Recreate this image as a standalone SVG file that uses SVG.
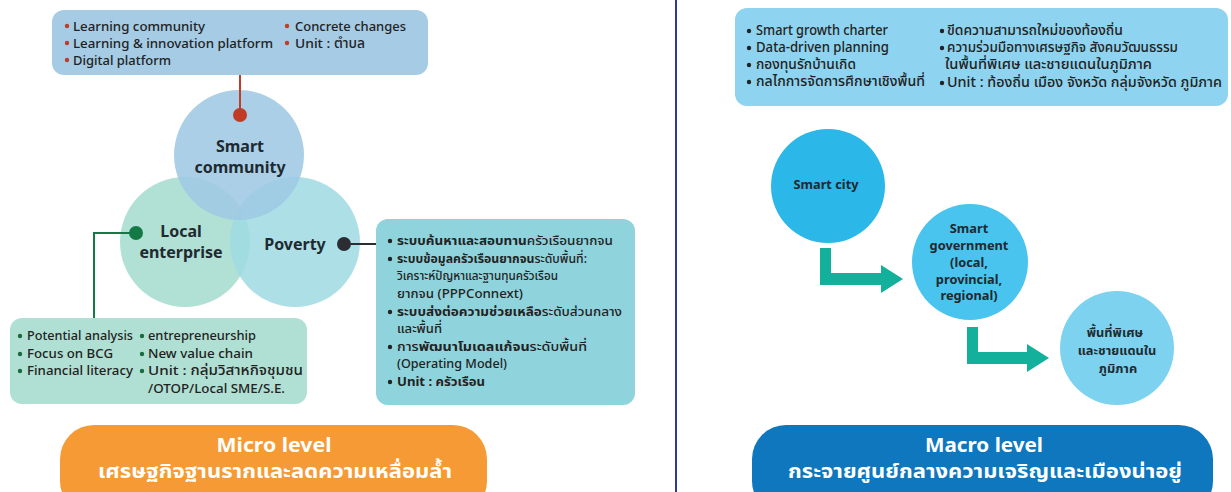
<svg xmlns="http://www.w3.org/2000/svg" width="1231" height="492" viewBox="0 0 1231 492">
<style>
text{font-family:"Noto Sans","Noto Sans Thai",Tahoma,sans-serif;fill:#222;}
.li{font-size:13.3px;font-weight:500;}
.th{font-size:13px;font-weight:500;}
.mb{font-size:13.6px;font-weight:500;}
.b{font-weight:700;}
.lbl{font-size:16px;font-weight:700;text-anchor:middle;fill:#1f2a30;}
.lblS{font-size:12.8px;font-weight:700;text-anchor:middle;fill:#1f2a30;}
.pill{font-size:19px;font-weight:700;text-anchor:middle;fill:#fff;}
.arrow{fill:#13b09c;}
</style>
<defs>
<circle id="bul" r="2.2"/>
</defs>
<rect width="1231" height="492" fill="#fff"/>
<line x1="676" y1="0" x2="676" y2="492" stroke="#2a3a9e" stroke-width="2"/>

<g id="smart-community-box">
<rect x="52" y="10" width="376" height="65" rx="12" fill="#a5cbe5"/>
<g fill="#c03c25"><use href="#bul" x="67" y="26"/><use href="#bul" x="67" y="43"/><use href="#bul" x="67" y="60"/><use href="#bul" x="287" y="26"/><use href="#bul" x="287" y="43"/></g>
<text class="li" x="73" y="31" textLength="132" lengthAdjust="spacingAndGlyphs">Learning community</text>
<text class="li" x="73" y="48" textLength="200" lengthAdjust="spacingAndGlyphs">Learning &amp; innovation platform</text>
<text class="li" x="73" y="65" textLength="98" lengthAdjust="spacingAndGlyphs">Digital platform</text>
<text class="li" x="295" y="31" textLength="111" lengthAdjust="spacingAndGlyphs">Concrete changes</text>
<text class="li" x="295" y="48" textLength="70" lengthAdjust="spacingAndGlyphs">Unit : ตำบล</text>
</g>

<g id="local-enterprise">
<circle cx="185" cy="242" r="65" fill="#a8ddd0" fill-opacity="0.9"/>
<text class="lbl" x="181" y="237">Local</text>
<text class="lbl" x="181" y="258">enterprise</text>
</g>
<g id="poverty">
<circle cx="295" cy="242" r="65" fill="#9fdbe2" fill-opacity="0.85"/>
<text class="lbl" x="295" y="250">Poverty</text>
</g>
<g id="smart-community">
<circle cx="239" cy="155" r="65" fill="#9ec8e4" fill-opacity="0.88"/>
<text class="lbl" x="240" y="152">Smart</text>
<text class="lbl" x="240" y="173">community</text>
</g>

<g id="connectors">
<line x1="240" y1="75" x2="240" y2="115" stroke="#c03c25" stroke-width="2"/>
<circle cx="240" cy="115" r="7" fill="#c03c25"/>
<polyline points="136,233 94,233 94,318" fill="none" stroke="#137a45" stroke-width="2"/>
<circle cx="136" cy="233" r="7" fill="#137a45"/>
<line x1="344" y1="244" x2="378" y2="244" stroke="#2b2d33" stroke-width="2"/>
<circle cx="344" cy="244" r="7" fill="#2b2d33"/>
<path class="arrow" d="M820,248 H831 V273 H881 V265 L903,279 L881,293 V285 H820 Z"/>
<path class="arrow" d="M967,327 H978 V352 H1027 V344 L1049,358 L1027,372 V364 H967 Z"/>
</g>

<g id="poverty-box">
<rect x="376" y="219" width="259" height="186" rx="12" fill="#8fd3dc"/>
<g fill="#222"><use href="#bul" x="390" y="241"/><use href="#bul" x="390" y="259"/><use href="#bul" x="390" y="312"/><use href="#bul" x="390" y="347"/><use href="#bul" x="390" y="382"/></g>
<text class="th" x="397" y="245" textLength="216" lengthAdjust="spacingAndGlyphs"><tspan class="b">ระบบค้นหาและสอบทาน</tspan>ครัวเรือนยากจน</text>
<text class="th" x="397" y="263" textLength="190" lengthAdjust="spacingAndGlyphs"><tspan class="b">ระบบข้อมูลครัวเรือนยากจน</tspan>ระดับพื้นที่:</text>
<text class="th" x="397" y="280" textLength="161" lengthAdjust="spacingAndGlyphs">วิเคราะห์ปัญหาและฐานทุนครัวเรือน</text>
<text class="th" x="397" y="298" textLength="126" lengthAdjust="spacingAndGlyphs">ยากจน (PPPConnext)</text>
<text class="th" x="397" y="316" textLength="225" lengthAdjust="spacingAndGlyphs"><tspan class="b">ระบบส่งต่อความช่วยเหลือ</tspan>ระดับส่วนกลาง</text>
<text class="th" x="397" y="333" textLength="45" lengthAdjust="spacingAndGlyphs">และพื้นที่</text>
<text class="th" x="397" y="351" textLength="190" lengthAdjust="spacingAndGlyphs">การ<tspan class="b">พัฒนาโมเดลแก้จน</tspan>ระดับพื้นที่</text>
<text class="th" x="397" y="368" textLength="110" lengthAdjust="spacingAndGlyphs">(Operating Model)</text>
<text class="th b" x="397" y="386" textLength="88" lengthAdjust="spacingAndGlyphs">Unit : ครัวเรือน</text>
</g>

<g id="local-enterprise-box">
<rect x="10" y="318" width="297" height="86" rx="12" fill="#b0e0d3"/>
<g fill="#1a6a40"><use href="#bul" x="20" y="336"/><use href="#bul" x="20" y="354"/><use href="#bul" x="20" y="371"/><use href="#bul" x="142" y="336"/><use href="#bul" x="142" y="354"/><use href="#bul" x="142" y="371"/></g>
<text class="li" x="27" y="340" textLength="106" lengthAdjust="spacingAndGlyphs">Potential analysis</text>
<text class="li" x="27" y="358" textLength="86" lengthAdjust="spacingAndGlyphs">Focus on BCG</text>
<text class="li" x="27" y="375" textLength="106" lengthAdjust="spacingAndGlyphs">Financial literacy</text>
<text class="li" x="148" y="340" textLength="108" lengthAdjust="spacingAndGlyphs">entrepreneurship</text>
<text class="li" x="148" y="358" textLength="105" lengthAdjust="spacingAndGlyphs">New value chain</text>
<text class="li" x="148" y="375" textLength="155" lengthAdjust="spacingAndGlyphs">Unit : กลุ่มวิสาหกิจชุมชน</text>
<text class="li" x="148" y="393" textLength="137" lengthAdjust="spacingAndGlyphs">/OTOP/Local SME/S.E.</text>
</g>

<g id="micro-level">
<rect x="60" y="425" width="427" height="90" rx="34" fill="#f59a35"/>
<text class="pill" x="274" y="452" textLength="115" lengthAdjust="spacingAndGlyphs">Micro level</text>
<text class="pill" x="275" y="478" textLength="354" lengthAdjust="spacingAndGlyphs">เศรษฐกิจฐานรากและลดความเหลื่อมล้ำ</text>
</g>

<g id="macro-box">
<rect x="735" y="8" width="493" height="98" rx="12" fill="#8ed3ef"/>
<g fill="#222"><use href="#bul" x="749" y="31"/><use href="#bul" x="749" y="48"/><use href="#bul" x="749" y="65"/><use href="#bul" x="749" y="82"/><use href="#bul" x="942" y="31"/><use href="#bul" x="942" y="48"/><use href="#bul" x="942" y="83"/></g>
<text class="mb" x="756" y="35" textLength="132" lengthAdjust="spacingAndGlyphs">Smart growth charter</text>
<text class="mb" x="756" y="52" textLength="133" lengthAdjust="spacingAndGlyphs">Data-driven planning</text>
<text class="mb" x="756" y="69" textLength="100" lengthAdjust="spacingAndGlyphs">กองทุนรักบ้านเกิด</text>
<text class="mb" x="756" y="86" textLength="169" lengthAdjust="spacingAndGlyphs">กลไกการจัดการศึกษาเชิงพื้นที่</text>
<text class="mb" x="947" y="35" textLength="176" lengthAdjust="spacingAndGlyphs">ขีดความสามารถใหม่ของท้องถิ่น</text>
<text class="mb" x="947" y="52" textLength="231" lengthAdjust="spacingAndGlyphs">ความร่วมมือทางเศรษฐกิจ สังคมวัฒนธรรม</text>
<text class="mb" x="945" y="69" textLength="207" lengthAdjust="spacingAndGlyphs">ในพื้นที่พิเศษ และชายแดนในภูมิภาค</text>
<text class="mb" x="947" y="87" textLength="275" lengthAdjust="spacingAndGlyphs">Unit : ท้องถิ่น เมือง จังหวัด กลุ่มจังหวัด ภูมิภาค</text>
</g>

<g id="smart-city">
<circle cx="828" cy="186" r="57" fill="#2bb7e8"/>
<text class="lblS" x="826" y="189">Smart city</text>
</g>
<g id="smart-government">
<circle cx="970" cy="262" r="58" fill="#48c4ee"/>
<text class="lblS" x="969" y="233">Smart</text>
<text class="lblS" x="969" y="250">government</text>
<text class="lblS" x="969" y="267">(local,</text>
<text class="lblS" x="969" y="284">provincial,</text>
<text class="lblS" x="969" y="300">regional)</text>
</g>
<g id="special-area">
<circle cx="1117" cy="348" r="57" fill="#7dd3ef"/>
<text class="lblS" x="1115" y="337">พื้นที่พิเศษ</text>
<text class="lblS" x="1117" y="355">และชายแดนใน</text>
<text class="lblS" x="1118" y="373">ภูมิภาค</text>
</g>

<g id="macro-level">
<rect x="752" y="425" width="461" height="90" rx="34" fill="#0e77bd"/>
<text class="pill" x="984" y="452" textLength="118" lengthAdjust="spacingAndGlyphs">Macro level</text>
<text class="pill" x="985" y="478" textLength="394" lengthAdjust="spacingAndGlyphs">กระจายศูนย์กลางความเจริญและเมืองน่าอยู่</text>
</g>
</svg>
